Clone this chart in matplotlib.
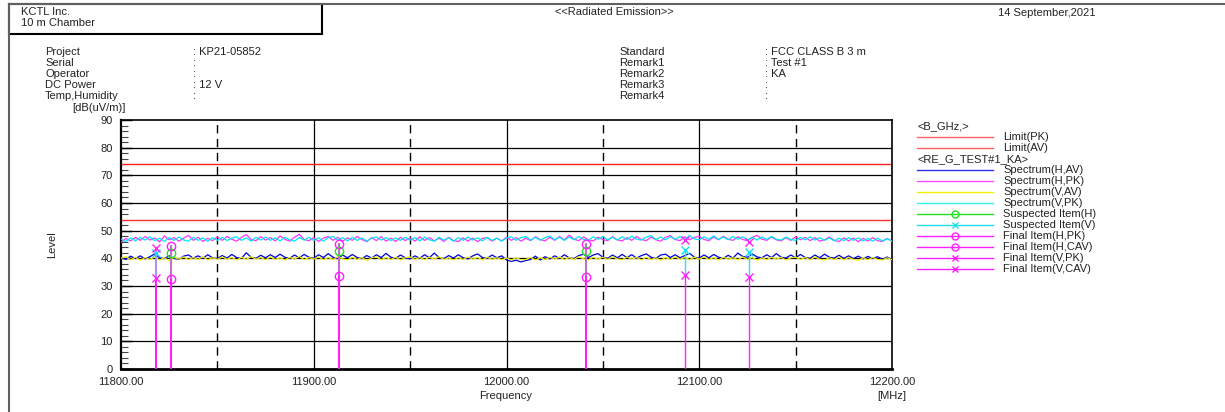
import numpy as np
import matplotlib
matplotlib.use("Agg")
import matplotlib.pyplot as plt
from matplotlib.patches import Rectangle
from matplotlib.lines import Line2D

plt.rcParams['font.family'] = ['Liberation Sans', 'DejaVu Sans']

# sweep 11800 .. 12200 MHz, 2.5 MHz step (161 points)
freq = np.linspace(11800, 12200, 161)

spec_h_pk = [
    45.8, 47.2, 46.3, 47.6, 46.5, 47.9, 46.6, 47.4, 45.9, 48.1, 46.7, 47.5, 46.2, 47.3, 48.3, 46.5, 47.6, 46.1, 47.2, 46.4,
    47.8, 46.5, 47.9, 46.9, 46.2, 47.6, 48.6, 46.8, 46.4, 47.8, 46.6, 47.5, 46.3, 48.1, 46.9, 46.2, 47.6, 48.7, 46.8, 46.4,
    47.5, 46.1, 47.3, 47.9, 46.5, 47.6, 46.2, 47.4, 46.5, 47.9, 46.8, 46.0, 47.5, 46.4, 47.8, 46.2, 47.3, 46.1, 47.6, 46.4,
    47.4, 46.2, 47.8, 46.5, 47.5, 46.3, 47.3, 46.1, 47.6, 46.4, 46.1, 47.4, 46.2, 47.3, 46.0, 47.2, 47.5, 46.2, 47.3, 46.3,
    47.7, 46.5, 47.5, 46.2, 47.3, 46.4, 47.8, 46.8, 46.3, 47.6, 46.5, 47.9, 46.7, 48.4, 46.9, 46.4, 47.7, 46.7, 46.3, 47.6,
    46.8, 46.4, 47.8, 46.7, 46.3, 47.5, 46.5, 47.9, 46.8, 46.4, 47.7, 46.7, 46.2, 47.6, 48.2, 46.8, 46.4, 47.8, 46.7, 47.6,
    47.9, 46.8, 46.4, 47.7, 46.7, 48.0, 46.9, 46.5, 47.8, 46.8, 46.4, 47.6, 48.3, 46.9, 46.5, 47.7, 46.7, 46.3, 47.5, 46.5,
    47.8, 46.7, 47.6, 46.4, 47.5, 46.2, 46.7, 47.7, 46.5, 46.1, 47.4, 46.3, 47.3, 46.0, 47.2, 46.2, 47.5, 46.4, 46.1, 47.2, 46.2]

spec_v_pk = [
    47.0, 46.0, 47.4, 46.3, 47.6, 46.6, 47.8, 46.4, 47.3, 46.1, 47.5, 46.5, 47.7, 46.6, 46.2, 47.6, 46.5, 47.4, 46.2, 47.5,
    46.5, 47.6, 46.4, 47.3, 47.8, 46.5, 47.4, 46.2, 47.6, 46.6, 47.7, 46.5, 47.4, 46.3, 47.6, 46.7, 46.2, 47.5, 46.6, 47.6,
    46.5, 47.4, 46.2, 47.5, 47.9, 46.6, 47.5, 46.3, 47.6, 46.5, 47.4, 46.2, 47.3, 47.7, 46.6, 47.5, 46.4, 47.4, 46.5, 47.6,
    46.6, 47.5, 46.3, 47.7, 46.7, 46.2, 47.6, 46.6, 47.4, 46.2, 47.5, 46.5, 47.7, 46.6, 47.4, 46.3, 47.6, 46.5, 47.3, 46.2,
    47.4, 47.8, 46.5, 47.5, 47.9, 46.6, 47.6, 46.5, 47.5, 48.0, 46.7, 47.6, 46.5, 47.7, 46.7, 47.9, 46.8, 46.5, 47.8, 46.9,
    47.9, 46.7, 47.6, 46.6, 47.8, 46.8, 48.0, 46.9, 46.6, 47.7, 48.2, 46.8, 47.7, 46.7, 47.8, 46.9, 47.9, 46.8, 48.3, 47.0,
    46.7, 47.8, 46.9, 48.1, 46.8, 47.7, 46.7, 47.9, 46.9, 47.8, 46.7, 47.6, 46.6, 47.7, 46.8, 47.9, 46.9, 46.6, 47.7, 46.8,
    46.5, 47.6, 46.7, 47.8, 46.6, 47.5, 46.5, 47.4, 46.3, 47.3, 46.4, 47.5, 46.5, 47.4, 46.3, 47.2, 46.2, 47.3, 46.3, 47.1, 46.2]

spec_h_av = [
    40.4, 39.6, 40.8, 39.9, 40.9, 39.8, 40.6, 41.6, 40.2, 39.9, 40.9, 40.0, 39.6, 40.8, 41.2, 40.1, 40.9, 40.0, 41.3, 40.2,
    39.9, 41.0, 40.1, 41.4, 40.3, 40.0, 42.0, 40.4, 40.0, 41.1, 40.2, 41.3, 40.3, 41.5, 40.4, 40.0, 41.2, 40.2, 41.4, 40.4,
    40.0, 41.3, 40.3, 41.7, 40.4, 39.9, 41.2, 40.2, 41.4, 40.3, 39.9, 41.0, 40.1, 41.3, 40.3, 41.8, 40.4, 40.0, 41.2, 40.2,
    39.8, 40.9, 40.0, 41.3, 40.2, 41.9, 40.3, 39.9, 41.0, 40.1, 41.3, 40.2, 39.8, 40.9, 41.6, 40.3, 40.0, 41.2, 40.2, 40.9,
    39.4, 38.9, 39.3, 38.7, 39.2, 39.6, 40.8, 39.4, 40.6, 39.8, 40.9, 40.0, 41.3, 40.2, 39.9, 41.0, 41.5, 40.3, 41.2, 41.7,
    40.4, 40.0, 41.2, 40.2, 41.4, 40.3, 41.3, 40.1, 41.0, 41.6, 40.4, 40.0, 41.2, 41.5, 40.3, 41.3, 40.2, 41.0, 41.8, 40.4,
    40.1, 41.2, 40.2, 41.4, 40.4, 40.0, 41.1, 40.1, 41.9, 40.7, 40.4, 41.6, 40.5, 40.2, 41.3, 40.3, 41.7, 40.4, 40.1, 41.2,
    40.2, 41.4, 40.3, 40.0, 41.2, 40.2, 41.5, 40.4, 40.1, 41.1, 40.0, 40.9, 39.9, 40.8, 39.8, 40.7, 39.9, 40.6, 39.6, 40.5, 39.4]

spec_v_av = [
    40.0, 40.6, 39.5, 40.4, 39.3, 40.3, 39.6, 40.5, 39.4, 40.2, 39.2, 40.4, 39.7, 40.5, 39.5, 40.3, 39.6, 40.6, 39.4, 40.2,
    39.6, 40.5, 39.7, 40.3, 39.4, 40.4, 39.6, 40.6, 39.7, 40.3, 39.5, 40.5, 39.6, 40.2, 39.4, 40.4, 39.7, 40.7, 39.5, 40.3,
    39.7, 40.5, 39.5, 40.3, 39.6, 40.6, 39.8, 39.4, 40.4, 39.6, 40.3, 39.2, 40.2, 40.5, 39.5, 40.3, 39.6, 40.4, 39.4, 40.2,
    40.5, 39.6, 40.3, 39.5, 40.4, 39.7, 40.6, 39.6, 40.2, 39.4, 40.3, 39.6, 40.5, 39.7, 40.3, 39.5, 40.4, 39.6, 40.2, 39.5,
    40.1, 39.4, 40.2, 39.5, 39.6, 40.3, 39.4, 40.2, 39.6, 40.4, 39.7, 40.5, 39.5, 40.3, 39.6, 40.6, 39.8, 39.5, 40.4, 39.7,
    40.4, 39.6, 40.6, 39.8, 39.5, 40.5, 39.7, 40.3, 39.4, 40.4, 39.6, 40.2, 39.3, 40.3, 39.6, 40.5, 39.7, 40.3, 39.5, 40.4,
    39.7, 40.5, 39.6, 40.3, 39.4, 40.4, 39.7, 40.2, 39.5, 40.5, 39.6, 40.3, 39.3, 40.2, 39.5, 40.4, 39.7, 40.3, 39.4, 40.2,
    40.4, 39.6, 40.3, 39.5, 40.5, 39.7, 39.4, 40.2, 39.6, 40.4, 39.5, 40.3, 39.6, 39.3, 40.2, 39.5, 40.3, 39.6, 39.4, 40.2, 39.5]

limit_pk = 74.0
limit_av = 54.0

# final items, horizontal pol (circle markers)
fin_h_freq = [11825.8, 11912.9, 12041.2]
fin_h_pk = [44.6, 45.3, 45.2]
fin_h_cav = [32.6, 33.5, 33.4]
susp_h = [41.9, 42.6, 42.6]

# final items, vertical pol (x markers)
fin_v_freq = [11818.0, 12092.8, 12126.0]
fin_v_pk = [43.8, 46.6, 45.8]
fin_v_cav = [32.8, 33.9, 33.1]
susp_v = [41.8, 43.0, 42.4]

W, H = 1225, 412
fig = plt.figure(figsize=(W / 100, H / 100), dpi=100)
fig.patch.set_facecolor('white')

def fx(px):
    return px / W

def fy(py):
    return 1 - py / H

ax = fig.add_axes([fx(121), fy(369), fx(892) - fx(121), fy(120) - fy(369)])

# grid
for yv in range(10, 90, 10):
    ax.axhline(yv, color='black', lw=0.9, zorder=1)
for xv in [11900, 12000, 12100]:
    ax.axvline(xv, color='black', lw=0.9, zorder=1)
for xv in [11850, 11950, 12050, 12150]:
    ax.axvline(xv, color='black', lw=1.0, dashes=(6, 4), zorder=1)

ax.axhline(limit_pk, color='#ff2020', lw=1.0, zorder=2)
ax.axhline(limit_av, color='#ff3030', lw=1.0, zorder=2)

ax.plot(freq, spec_h_pk, color='#ff30ff', lw=0.9, zorder=3)
ax.plot(freq, spec_v_pk, color='#00e8f0', lw=0.9, zorder=3)
ax.plot(freq, spec_h_av, color='#0000e0', lw=0.9, zorder=3)
ax.plot(freq, spec_v_av, color='#f0f000', lw=0.9, zorder=3)

# stems
for f, pk, cav in zip(fin_h_freq, fin_h_pk, fin_h_cav):
    ax.plot([f, f], [cav, pk], color='#c070c8', lw=1.5, zorder=4)
    ax.plot([f, f], [0, cav], color='#ff20ff', lw=1.5, zorder=4)
for i, (f, pk, cav) in enumerate(zip(fin_v_freq, fin_v_pk, fin_v_cav)):
    if i == 0:
        ax.plot([f, f], [cav, pk], color='#b090f0', lw=1.5, zorder=4)
        ax.plot([f, f], [0, cav], color='#ff20ff', lw=1.5, zorder=4)
    else:
        ax.plot([f, f], [cav, susp_v[i]], color='#30e0f0', lw=1.0, zorder=4)
        ax.plot([f, f], [0, cav], color='#ff20ff', lw=1.0, zorder=4)

ax.plot(fin_h_freq, susp_h, 'o', mfc='none', mec='#20e020', ms=6, mew=1.0, zorder=5)
ax.plot(fin_v_freq, susp_v, 'x', color='#10e0f0', ms=6, mew=1.0, zorder=5)
ax.plot(fin_h_freq, fin_h_pk, 'o', mfc='none', mec='#ff20ff', ms=6, mew=1.0, zorder=6)
ax.plot(fin_h_freq, fin_h_cav, 'o', mfc='none', mec='#ff20ff', ms=6, mew=1.0, zorder=6)
ax.plot(fin_v_freq, fin_v_pk, 'x', color='#ff20ff', ms=6, mew=1.0, zorder=6)
ax.plot(fin_v_freq, fin_v_cav, 'x', color='#ff20ff', ms=6, mew=1.0, zorder=6)

ax.set_xlim(11800, 12200)
ax.set_ylim(0, 90)
ax.set_xticks([11800, 11900, 12000, 12100, 12200])
ax.set_xticklabels(['%.2f' % v for v in [11800, 11900, 12000, 12100, 12200]])
ax.set_yticks(range(0, 100, 10))
ax.set_yticks(range(0, 90, 2), minor=True)
ax.tick_params(axis='x', length=0, labelsize=8, pad=6, labelcolor='#222222')
ax.tick_params(axis='y', which='major', direction='in', length=8, width=1.0, labelsize=8, pad=6, labelcolor='#222222')
ax.tick_params(axis='y', which='minor', direction='in', length=5, width=0.8, color='#444444')
for s in ax.spines.values():
    s.set_color('black')
    s.set_linewidth(1.2)
ax.spines['bottom'].set_linewidth(2.0)
ax.spines['left'].set_linewidth(1.6)

txt = dict(fontsize=8, color='#222222')
fig.text(fx(72), fy(108), '[dB(uV/m)]', va='center', ha='left', **txt)
fig.text(fx(52), fy(245), 'Level', va='center', ha='center', rotation=90, **txt)
fig.text(fx(506), fy(396), 'Frequency', va='center', ha='center', **txt)
fig.text(fx(892), fy(396), '[MHz]', va='center', ha='center', **txt)

# header
fig.text(fx(21), fy(12), 'KCTL Inc.', va='center', ha='left', **txt)
fig.text(fx(21), fy(23), '10 m Chamber', va='center', ha='left', **txt)
fig.text(fx(614), fy(12), '<<Radiated Emission>>', va='center', ha='center', **txt)
fig.text(fx(1095), fy(13), '14 September,2021', va='center', ha='right', **txt)

left_labels = ['Project', 'Serial', 'Operator', 'DC Power', 'Temp,Humidity']
left_values = [': KP21-05852', ':', ':', ': 12 V', ':']
right_labels = ['Standard', 'Remark1', 'Remark2', 'Remark3', 'Remark4']
right_values = [': FCC CLASS B 3 m', ': Test #1', ': KA', ':', ':']
for i in range(5):
    yy = fy(52 + 11 * i)
    fig.text(fx(45), yy, left_labels[i], va='center', ha='left', **txt)
    fig.text(fx(193), yy, left_values[i], va='center', ha='left', **txt)
    fig.text(fx(619), yy, right_labels[i], va='center', ha='left', **txt)
    fig.text(fx(765), yy, right_values[i], va='center', ha='left', **txt)

# frame lines
fig.add_artist(Line2D([fx(9), fx(9)], [fy(4), fy(412)], color='#606060', lw=1.5))
fig.add_artist(Line2D([fx(9), fx(1225)], [fy(4), fy(4)], color='#606060', lw=1.5))
fig.add_artist(Rectangle((fx(9), fy(34)), fx(322) - fx(9), fy(4) - fy(34),
                         fill=False, edgecolor='black', lw=1.5))

# legend drawn by hand
leg_rows = [
    ('<B_GHz,>', None, None),
    ('Limit(PK)', '#ff6060', None),
    ('Limit(AV)', '#ff6060', None),
    ('<RE_G_TEST#1_KA>', None, None),
    ('Spectrum(H,AV)', '#3030f0', None),
    ('Spectrum(H,PK)', '#ff50ff', None),
    ('Spectrum(V,AV)', '#f0f000', None),
    ('Spectrum(V,PK)', '#30f0f0', None),
    ('Suspected Item(H)', '#20e020', 'o'),
    ('Suspected Item(V)', '#20e0f0', 'x'),
    ('Final Item(H,PK)', '#ff20ff', 'o'),
    ('Final Item(H,CAV)', '#ff20ff', 'o'),
    ('Final Item(V,PK)', '#ff20ff', 'x'),
    ('Final Item(V,CAV)', '#ff20ff', 'x'),
]
for i, (lab, col, mk) in enumerate(leg_rows):
    yy = fy(126 + 11 * i)
    if col is None:
        fig.text(fx(917), yy, lab, va='center', ha='left', **txt)
        continue
    fig.add_artist(Line2D([fx(917), fx(993)], [yy, yy], color=col, lw=1.0))
    if mk == 'o':
        fig.add_artist(Line2D([fx(955)], [yy], marker='o', mfc='none', mec=col, ms=5, mew=1.0))
    elif mk == 'x':
        fig.add_artist(Line2D([fx(955)], [yy], marker='x', color=col, ms=5, mew=1.0))
    fig.text(fx(1003), yy, lab, va='center', ha='left', **txt)

fig.savefig('out.png', dpi=100, facecolor='white')
